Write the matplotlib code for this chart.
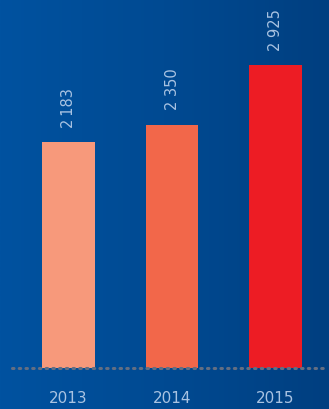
import numpy as np
import matplotlib
matplotlib.use("Agg")
import matplotlib.pyplot as plt
from matplotlib.colors import LinearSegmentedColormap

years = ["2013", "2014", "2015"]
values = [2183, 2350, 2925]
value_labels = ["2\u2009183", "2 350", "2 925"]
bar_colors = ["#f7997b", "#f2674a", "#ed1c24"]

W, H = 329, 410
fig = plt.figure(figsize=(W / 100, H / 100), dpi=100)

# background gradient
bg = fig.add_axes([0, 0, 1, 1])
cmap = LinearSegmentedColormap.from_list("bg", ["#0052a0", "#004a92", "#003f80"])
grad = np.linspace(0, 1, 256).reshape(1, -1)
bg.imshow(grad, aspect="auto", cmap=cmap, extent=[0, 1, 0, 1])
bg.set_axis_off()

ax = fig.add_axes([0, 41 / H, 1, 1 - 41 / H])
ax.set_facecolor("none")
x = np.arange(len(years))
ax.bar(x, values, width=0.512, color=bar_colors, zorder=2)
ax.set_xlim(-0.662, 2.517)
ax.set_ylim(0, 369 / 0.1035)

# dotted baseline
ax.plot([-0.545, 2.49], [0, 0], linestyle=(0, (0.5, 1.7)), color="#636e82",
        linewidth=2.2, clip_on=False, zorder=3,
        dash_capstyle="round")

for xi, v, lab in zip(x, values, value_labels):
    ax.text(xi, v + 150, lab, rotation=90, ha="center", va="bottom",
            color="#a9c3e2", fontsize=10.5, family="DejaVu Sans")

for xi, y in zip(x, years):
    ax.text(xi, -215, y, ha="center", va="top", color="#a9c3e2", fontsize=11,
            family="DejaVu Sans", clip_on=False)

ax.set_axis_off()
fig.savefig("out.png", dpi=100)
